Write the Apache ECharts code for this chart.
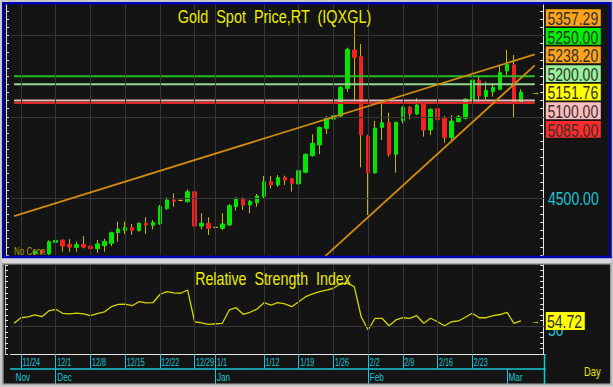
<!DOCTYPE html>
<html><head><meta charset="utf-8">
<script src="https://cdn.jsdelivr.net/npm/echarts@6/dist/echarts.min.js"></script>
<style>html,body{margin:0;padding:0;background:#141414;}#c{width:613px;height:387px;}</style>
</head><body><div id="c"></div>
<script>
// ---------- data ----------
const days = ['11/21','11/24','11/25','11/26','11/27','11/28','12/1','12/2','12/3','12/4','12/5','12/8','12/9','12/10','12/11','12/12','12/15','12/16','12/17','12/18','12/19','12/22','12/23','12/24','12/25','12/26','12/29','12/30','12/31','1/1','1/2','1/5','1/6','1/7','1/8','1/9','1/12','1/13','1/14','1/15','1/16','1/19','1/20','1/21','1/22','1/23','1/26','1/27','1/28','1/29','1/30','2/2','2/3','2/4','2/5','2/6','2/9','2/10','2/11','2/12','2/13','2/16','2/17','2/18','2/19','2/20','2/23','2/24','2/25','2/26','2/27','3/2','3/3','3/4','3/5','3/6','3/9'];
const candleStart = '11/24';
const open  = [4065,4135,4160,4175,4156,4228,4242,4216,4197,4216, 4205,4189,4207,4222,4287,4300,4320,4300,4345,4333, 4341,4435,4488,4486,4478,4539,4328,4345,4320,4314, 4335,4447,4493,4458,4472,4509,4601,4581,4628,4619, 4587,4659,4761,4827,4929,4986,5005,5175,5411,5370, 4882,4656,4935,4966,4769,4976,5058,5017,5079,4919, 5050,4991,4872,4970,4991,5099,5226,5125,5154,5169, 5282,5319,5087];
const close = [4135,4130,4172,4165,4232,4240,4205,4199,4214,4199, 4189,4218,4234,4287,4310,4320,4300,4345,4335,4349, 4447,4488,4480,4486,4539,4328,4345,4314,4320,4341, 4453,4499,4458,4480,4513,4601,4581,4626,4611,4591, 4669,4769,4837,4935,4991,5007,5181,5415,5366,4888, 4656,4930,4964,4769,4966,5058,5017,5073,4919,5046, 4982,4872,4974,5001,5108,5226,5128,5163,5181,5271, 5323,5087,5151.76];
const low   = [4060,4100,4150,4155,4150,4205,4170,4170,4170,4191, 4176,4164,4170,4205,4232,4279,4274,4294,4279,4308, 4335,4427,4447,4486,4472,4304,4308,4273,4320,4304, 4328,4423,4427,4406,4447,4499,4560,4570,4581,4540, 4581,4652,4755,4771,4894,4980,4997,5154,5103,4689, 4396,4650,4857,4755,4656,4960,4984,5011,4878,4888, 4958,4841,4847,4966,4984,5093,5083,5108,5124,5163, 5257,4995,5079];
const high  = [4145,4145,4178,4180,4240,4273,4245,4248,4232,4267, 4226,4242,4250,4293,4355,4355,4341,4351,4382,4365, 4458,4505,4529,4486,4554,4554,4407,4382,4320,4407, 4464,4505,4505,4488,4525,4636,4636,4642,4638,4621, 4693,4775,4892,4939,5005,5108,5189,5425,5585,5448, 4890,4975,5090,5025,4970,5066,5066,5114,5085,5052, 5058,5005,5011,5011,5114,5237,5247,5216,5206,5318, 5411,5380,5169];
const rsiStart = '11/21';
const rsi = [52.6,57.6,58.3,60.1,58.5,63.7,65.2,61.6,61.0,61.8, 61.0,59.4,61.2,62.8,67.5,69.6,69.9,68.4,72.0,71.0, 71.1,78.5,81.0,80.0,79.6,82.5,54.0,53.0,51.7,52.2, 52.6,64.6,66.6,60.7,62.5,65.4,71.1,69.0,71.1,70.0, 67.5,72.0,76.5,79.0,81.0,82.5,84.1,88.2,88.6,85.5, 58.5,46.6,57.1,57.1,50.4,55.6,57.6,57.1,59.4,52.6, 57.1,54.0,50.4,54.0,54.7,58.0,61.6,57.6,57.6,59.5, 60.5,62.5,52.6,54.72];
const levels = [5250, 5200, 5100, 5085];
const levelSpan = ['11/21', '3/6'];
const trendUpperDates = ['11/21', '3/6'];
const trendUpperValues = [4389, 5384];
const trendLowerDates = ['1/22', '3/6'];
const trendLowerValues = [4111, 5316];
const trendLabelValues = [5357.29, 5238.20];
const lastClose = 5151.76;
const lastRsi = 54.72;
const dateTicks = ['11/24','12/1','12/8','12/15','12/22','12/29','1/1','1/12','1/19','1/26','2/2','2/9','2/16','2/23'];
const monthStarts = ['11/21','12/1','1/1','2/2','3/2'];
const monthNames = ['Nov','Dec','Jan','Feb','Mar'];
const priceGridLevels = [4500, 5000, 5500];
const priceAxisLabels = [4500];
const rsiGridLevels = [50];
const rsiAxisLabels = [50];

// ---------- styles ----------
const FONT = '"Liberation Sans",Arial,sans-serif';
const UP = '#00e600', DOWN = '#f02222', WICK = '#c9b600', DOJI = '#d8c800';
const CYAN = '#19c6d6', YEL = '#ecec00', GRIDC = '#363636', AXC = '#e6e6e6';
const levelColors = ['#22c022', '#8fd68f', '#e9b4b4', '#e02424'];
const boxColors = {upper:'#ffa31a', 5250:'#00f000', lower:'#ffa31a', 5200:'#98f098', last:'#ffff00', 5100:'#ffbcbc', 5085:'#ff2b2b'};

const idx0 = days.indexOf(candleStart);
const wickData = days.map((d, k) => {
  const j = k - idx0;
  if (j < 0 || j >= open.length) return ['-','-','-','-'];
  return [open[j], close[j], low[j], high[j]];
});
const bodyData = days.map((d, k) => {
  const j = k - idx0;
  if (j < 0 || j >= open.length) return ['-','-','-','-'];
  const o = open[j], c = close[j];
  const item = {value: [o, c, Math.min(o, c), Math.max(o, c)]};
  if (o === c) item.itemStyle = {color: DOJI, color0: DOJI, borderColor: DOJI, borderColor0: DOJI, borderColorDoji: DOJI};
  return item;
});
const r0 = days.indexOf(rsiStart);
const rsiData = days.map((d, k) => {
  const j = k - r0;
  return (j < 0 || j >= rsi.length) ? '-' : rsi[j];
});

const isDateTick = (i, v) => dateTicks.indexOf(v) >= 0;
const isMonthTick = (i, v) => monthStarts.indexOf(v) > 0;

const chart = echarts.init(document.getElementById('c'), null, {renderer: 'svg', width: 613, height: 387});
const gridLineStyle = {color: GRIDC, width: 1, type: 'solid'};

const option = {
  backgroundColor: '#141414',
  animation: false,
  grid: [
    {left: 10.6, top: 3, width: 534.6, height: 252},
    {left: 10.6, top: 265, width: 534.6, height: 89}
  ],
  xAxis: [
    {type: 'category', gridIndex: 0, data: days, boundaryGap: true,
     axisLine: {show: false}, axisTick: {show: false}, axisLabel: {show: false}, splitLine: {show: false}},
    {type: 'category', gridIndex: 1, data: days, boundaryGap: true, position: 'bottom',
     axisLine: {show: true, lineStyle: {color: AXC, width: 1}},
     axisTick: {show: true, interval: isDateTick, alignWithLabel: true, length: 14.7, lineStyle: {color: CYAN, width: 1}},
     axisLabel: {show: false}, splitLine: {show: false}},
    {type: 'category', gridIndex: 1, data: days, boundaryGap: true, position: 'bottom', offset: 14.7,
     axisLine: {show: true, lineStyle: {color: CYAN, width: 1.5}},
     axisTick: {show: true, interval: isMonthTick, alignWithLabel: true, length: 16, lineStyle: {color: CYAN, width: 1}},
     axisLabel: {show: false}, splitLine: {show: false}}
  ],
  yAxis: [
    {type: 'value', gridIndex: 0, position: 'left', offset: 4.6, min: 4150, max: 5700, interval: 50,
     axisLine: {show: true, lineStyle: {color: AXC, width: 1}},
     axisTick: {show: true, inside: true, length: 3, lineStyle: {color: AXC}},
     axisLabel: {show: false}, splitLine: {show: false}},
    {type: 'value', gridIndex: 0, position: 'right', offset: -2, min: 4150, max: 5700, interval: 50,
     axisLine: {show: true, lineStyle: {color: AXC, width: 1}},
     axisTick: {show: true, inside: true, length: 3, lineStyle: {color: AXC}},
     axisLabel: {show: false}, splitLine: {show: false}},
    {type: 'value', gridIndex: 1, position: 'left', offset: 5.6, min: 25, max: 105, interval: 5,
     axisLine: {show: true, lineStyle: {color: '#bdbdbd', width: 1}},
     axisTick: {show: true, inside: true, length: 3, lineStyle: {color: AXC}},
     axisLabel: {show: false}, splitLine: {show: false}},
    {type: 'value', gridIndex: 1, position: 'right', offset: -2, min: 25, max: 105, interval: 5,
     axisLine: {show: true, lineStyle: {color: AXC, width: 1}},
     axisTick: {show: true, inside: true, length: 3, lineStyle: {color: AXC}},
     axisLabel: {show: false}, splitLine: {show: false}}
  ],
  series: [
    {type: 'line', xAxisIndex: 0, yAxisIndex: 0, data: [], z: 1, silent: true,
     markLine: {silent: true, symbol: ['none','none'], label: {show: false}, lineStyle: gridLineStyle, animation: false,
       data: dateTicks.map(d => ({xAxis: d})).concat(priceGridLevels.map(v => ({yAxis: v})))}},
    {type: 'line', xAxisIndex: 1, yAxisIndex: 2, data: [], z: 1, silent: true,
     markLine: {silent: true, symbol: ['none','none'], label: {show: false}, lineStyle: gridLineStyle, animation: false,
       data: dateTicks.map(d => ({xAxis: d})).concat(rsiGridLevels.map(v => ({yAxis: v})))}},
    {type: 'candlestick', name: 'wick', xAxisIndex: 0, yAxisIndex: 0, data: wickData, barWidth: 1, z: 2, silent: true,
     itemStyle: {color: WICK, color0: WICK, borderColor: WICK, borderColor0: WICK, borderColorDoji: WICK, borderWidth: 1}},
    {type: 'candlestick', name: 'body', xAxisIndex: 0, yAxisIndex: 0, data: bodyData, barWidth: 4, z: 3, silent: true,
     itemStyle: {color: UP, color0: DOWN, borderColor: UP, borderColor0: DOWN, borderColorDoji: DOJI, borderWidth: 1}},
    ...levels.map((v, k) => ({type: 'line', xAxisIndex: 0, yAxisIndex: 0, z: 4, silent: true, symbol: 'none',
      data: levelSpan.map(d => [d, v]), lineStyle: {color: levelColors[k], width: 2}})),
    {type: 'line', xAxisIndex: 0, yAxisIndex: 0, z: 5, silent: true, symbol: 'none', clip: true,
     data: trendUpperDates.map((d, k) => [d, trendUpperValues[k]]), lineStyle: {color: '#d18b0f', width: 1.8}},
    {type: 'line', xAxisIndex: 0, yAxisIndex: 0, z: 5, silent: true, symbol: 'none', clip: true,
     data: trendLowerDates.map((d, k) => [d, trendLowerValues[k]]), lineStyle: {color: '#d18b0f', width: 1.8}},
    {type: 'line', xAxisIndex: 1, yAxisIndex: 2, z: 4, silent: true, symbol: 'none', data: rsiData,
     lineStyle: {color: '#d6d600', width: 1.3}}
  ]
};
chart.setOption(option);

// ---------- texts (narrow, terminal-like lettering) and frames ----------
const g = [];
function txt(text, x, y, size, fill, sx, align, z) {
  g.push({type: 'text', z: z || 61, silent: true, x: x, y: y, scaleX: sx,
    style: {text: text, fill: fill, font: size + 'px ' + FONT, verticalAlign: 'middle', align: align || 'left'}});
}
g.push({type: 'rect', z: 50, silent: true, shape: {x: 0, y: 258, width: 613, height: 5}, style: {fill: '#d9d9d9'}});
g.push({type: 'rect', z: 50, silent: true, shape: {x: 1, y: 1, width: 611, height: 385}, style: {fill: 'none', stroke: '#c8c8c8', lineWidth: 2}});
g.push({type: 'rect', z: 51, silent: true, shape: {x: 3.3, y: 3.3, width: 607.2, height: 253.6}, style: {fill: 'none', stroke: '#0000b4', lineWidth: 2.5}});
g.push({type: 'rect', z: 51, silent: true, shape: {x: 2.8, y: 263.8, width: 608, height: 120.4}, style: {fill: 'none', stroke: '#a6a6a6', lineWidth: 1.5}});
g.push({type: 'line', z: 51, silent: true, shape: {x1: 544.5, y1: 354, x2: 544.5, y2: 384}, style: {stroke: CYAN, lineWidth: 1.5}});

// titles
txt('Gold  Spot  Price,RT  (IQXGL)', 274.5, 16.5, 19, YEL, 0.76, 'center');
txt('Relative  Strength  Index', 273, 278.5, 18, YEL, 0.79, 'center');

// axis value labels
const y4500 = chart.convertToPixel({yAxisIndex: 1}, priceAxisLabels[0]);
txt(priceAxisLabels[0].toFixed(2), 548, y4500 + 0.5, 18, CYAN, 0.78);
const y50 = chart.convertToPixel({yAxisIndex: 3}, rsiAxisLabels[0]);
txt(String(rsiAxisLabels[0]), 548, y50 + 3, 18, CYAN, 0.78, 'left', 55);

// date strip labels
dateTicks.forEach(d => {
  const x = chart.convertToPixel({xAxisIndex: 1}, d);
  txt(d, x + 1.5, 362.5, 10, CYAN, 0.72);
});
monthStarts.forEach((d, k) => {
  const x = chart.convertToPixel({xAxisIndex: 2}, d);
  txt(monthNames[k], x + 1.5, 377.5, 10.5, CYAN, 0.78);
});

// stacked price column
const side = [
  {v: trendLabelValues[0], c: boxColors.upper},
  {v: levels[0], c: boxColors[5250]},
  {v: trendLabelValues[1], c: boxColors.lower},
  {v: levels[1], c: boxColors[5200]},
  {v: lastClose, c: boxColors.last, anchor: true},
  {v: levels[2], c: boxColors[5100]},
  {v: levels[3], c: boxColors[5085]}
].sort((a, b) => b.v - a.v);
const anchorIdx = side.findIndex(s => s.anchor);
const yLast = chart.convertToPixel({yAxisIndex: 0}, lastClose);
const yRsi = chart.convertToPixel({yAxisIndex: 2}, lastRsi);
const STEP = 18.6;
side.forEach((s, k) => {
  const y = yLast + (k - anchorIdx) * STEP;
  g.push({type: 'rect', z: 60, silent: true, shape: {x: 545.8, y: y - 8.4, width: 55, height: 16.8}, style: {fill: s.c}});
  txt(s.v.toFixed(2), 547.5, y + 0.5, 18, '#303030', 0.78);
});
g.push({type: 'rect', z: 60, silent: true, shape: {x: 545.8, y: yRsi - 9, width: 39, height: 18}, style: {fill: '#ffff00'}});
txt(lastRsi.toFixed(2), 547, yRsi + 0.5, 18, '#303030', 0.78);
txt('→', 531, yLast, 9, YEL, 1);
txt('→', 531, yRsi, 9, YEL, 1);
txt('Day', 584, 371, 12.5, '#e4e400', 0.75);
txt('No Conn', 14, 251.5, 10, '#ab9d00', 0.8);
chart.setOption({graphic: g});
</script>
</body></html>
